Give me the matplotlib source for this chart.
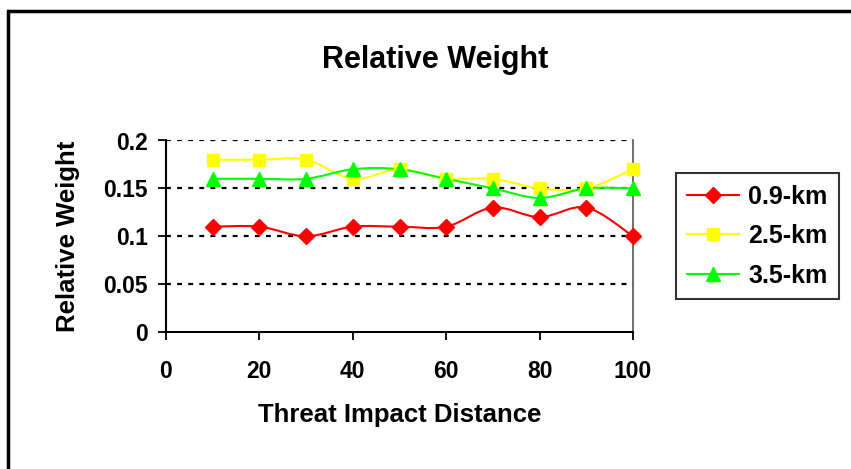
import numpy as np
import matplotlib.pyplot as plt
from matplotlib.path import Path
from matplotlib.patches import PathPatch, Rectangle

plt.rcParams["font.family"] = ["Liberation Sans", "DejaVu Sans"]
plt.rcParams["font.weight"] = "bold"

# ── Data ────────────────────────────────────────────────────────────────────
distance = [10, 20, 30, 40, 50, 60, 70, 80, 90, 100]
w_09km = [0.11, 0.11, 0.10, 0.11, 0.11, 0.11, 0.13, 0.12, 0.13, 0.10]
w_25km = [0.18, 0.18, 0.18, 0.16, 0.17, 0.16, 0.16, 0.15, 0.15, 0.17]
w_35km = [0.16, 0.16, 0.16, 0.17, 0.17, 0.16, 0.15, 0.14, 0.15, 0.15]
labels = ["0.9-km", "2.5-km", "3.5-km"]
yticks = [0, 0.05, 0.1, 0.15, 0.2]
ytick_labels = ["0", "0.05", "0.1", "0.15", "0.2"]
xticks = [0, 20, 40, 60, 80, 100]

RED = "#ff0000"
YELLOW = "#ffff00"
GREEN = "#00ff00"


def smooth_path(x, y):
    # Excel-style smoothed line: cubic Bezier through the points
    p = np.column_stack([x, y]).astype(float)
    n = len(p)
    verts = [p[0]]
    codes = [Path.MOVETO]
    for i in range(n - 1):
        p0 = p[max(i - 1, 0)]
        p1, p2 = p[i], p[i + 1]
        p3 = p[min(i + 2, n - 1)]
        c1 = p1 + (p2 - p0) / 6.0
        c2 = p2 - (p3 - p1) / 6.0
        verts += [c1, c2, p2]
        codes += [Path.CURVE4] * 3
    return Path(verts, codes)


fig = plt.figure(figsize=(8.51, 4.69), dpi=100)
W, H = 851, 469
ax = fig.add_axes([166 / W, 1 - 332 / H, (633 - 166) / W, (332 - 140.5) / H])

# outer chart frame (clipped on right and bottom)
fig.patches.append(Rectangle((7.5 / W, -0.2), 1.2, 1 - 11 / H + 0.2,
                             transform=fig.transFigure, fill=False,
                             edgecolor="black", linewidth=2.5))

series = [
    (w_09km, RED, "D", 8),
    (w_25km, YELLOW, "s", 8.5),
    (w_35km, GREEN, "^", 10),
]
handles = []
for (vals, col, mk, ms), lab in zip(series, labels):
    ax.add_patch(PathPatch(smooth_path(distance, vals), fill=False,
                           edgecolor=col, linewidth=1.5, zorder=3))
    ax.plot(distance, vals, linestyle="none", marker=mk, markersize=ms,
            color=col, markeredgecolor=col, zorder=4, clip_on=False)
    handles.append(plt.Line2D([], [], color=col, linewidth=1.5, marker=mk,
                              markersize=ms, markeredgecolor=col))

ax.set_xlim(0, 100)
ax.set_ylim(0, 0.2)
ax.set_xticks(xticks)
ax.set_yticks(yticks)
ax.set_yticklabels(ytick_labels)
for y in yticks[1:]:
    ax.axhline(y, color="black", linestyle=(0, (2.2, 2.8)), linewidth=1.6, zorder=1)

ax.spines["top"].set_visible(False)
ax.spines["right"].set_color("#555555")
ax.spines["right"].set_linewidth(1.2)
ax.spines["left"].set_linewidth(1.5)
ax.spines["bottom"].set_linewidth(1.5)
ax.tick_params(axis="both", direction="out", length=6, width=1.3,
               labelsize=16.5)
ax.tick_params(axis="x", pad=14)
ax.tick_params(axis="y", pad=7)

ax.set_xlabel("Threat Impact Distance", fontsize=18.5, fontweight="bold")
ax.set_ylabel("Relative Weight", fontsize=18.5, fontweight="bold")
ax.xaxis.set_label_coords(0.5, (332 - 415) / 191.5)
ax.yaxis.set_label_coords((68 - 166) / 467, 0.5)
ax.xaxis.label.set_va("center")
ax.yaxis.label.set_va("center")
fig.text(435 / W, 1 - 60 / H, "Relative Weight", ha="center", va="center",
         fontsize=22, fontweight="bold")

leg = fig.legend(handles, labels, loc="center", bbox_to_anchor=(757 / W, 1 - 236 / H),
                 frameon=True, fancybox=False, edgecolor="black", fontsize=18,
                 handlelength=2.1, labelspacing=0.62, borderpad=0.45,
                 handletextpad=0.35, borderaxespad=0)
leg.get_frame().set_linewidth(1.5)

fig.savefig("out.png", dpi=100)
